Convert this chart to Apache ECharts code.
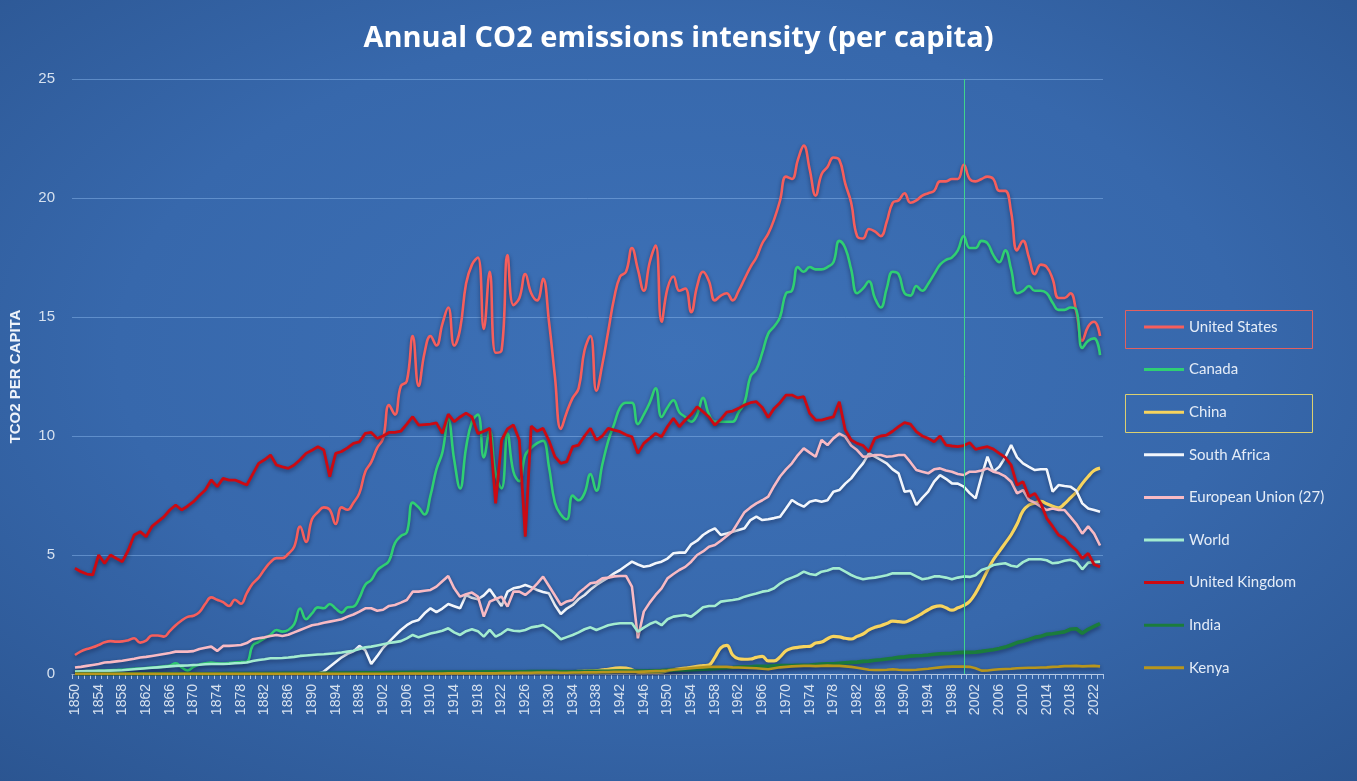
<!DOCTYPE html>
<html>
<head>
<meta charset="utf-8">
<script src="https://cdn.jsdelivr.net/npm/echarts@6/dist/echarts.min.js"></script>
<style>
html,body{margin:0;padding:0;width:1357px;height:781px;overflow:hidden;}
body{background:radial-gradient(ellipse 75% 75% at 50% 45%, #3d71b7 0%, #3768ac 55%, #2b5591 100%);}
#chart{width:1357px;height:781px;}
</style>
</head>
<body>
<div id="chart"></div>
<script>
// Years 1850..2023 (category labels)
const years = [];
for (let y = 1850; y <= 2023; y++) years.push(String(y));

const unitedStates = [
0.80,0.95,1.05,1.12,1.22,1.33,1.38,1.36,1.37,1.42,
1.50,1.32,1.40,1.62,1.62,1.57,1.80,2.05,2.25,2.40,
2.45,2.60,2.95,3.22,3.12,3.02,2.86,3.12,2.95,3.40,
3.80,4.05,4.40,4.70,4.87,4.87,5.05,5.35,6.20,5.55,
6.50,6.80,7.00,6.90,6.30,7.00,6.90,7.20,7.60,8.50,
8.90,9.50,9.90,11.30,10.90,12.10,12.30,14.20,12.10,13.50,
14.20,13.80,14.70,15.40,13.80,14.50,16.40,17.20,17.50,14.50,
16.90,13.50,13.60,17.60,15.50,15.80,16.80,16.00,15.70,16.60,
14.80,12.50,10.30,11.00,11.60,12.00,13.60,14.20,11.90,13.00,
14.40,15.80,16.70,16.90,17.90,17.00,16.10,17.30,18.00,14.80,
16.20,16.70,16.10,16.20,15.20,16.30,16.90,16.50,15.70,15.90,
16.00,15.70,16.10,16.60,17.10,17.50,18.10,18.50,19.10,19.90,
20.90,20.80,21.60,22.20,21.20,20.10,21.00,21.30,21.70,21.60,
20.60,19.80,18.40,18.30,18.70,18.60,18.40,19.00,19.80,19.90,
20.20,19.80,19.90,20.10,20.20,20.30,20.70,20.70,20.80,20.80,
21.40,20.80,20.70,20.80,20.90,20.80,20.30,20.30,19.40,17.80,
18.20,17.50,16.80,17.20,17.10,16.60,15.80,15.80,16.00,15.20,
14.00,14.60,14.80,14.20];

const canada = [
0.10,0.11,0.12,0.13,0.14,0.15,0.16,0.17,0.18,0.20,
0.22,0.23,0.25,0.27,0.29,0.32,0.36,0.45,0.28,0.15,
0.30,0.40,0.45,0.48,0.45,0.44,0.46,0.48,0.50,0.52,
1.20,1.35,1.50,1.65,1.85,1.78,1.85,2.10,2.75,2.30,
2.55,2.80,2.76,2.94,2.75,2.58,2.80,2.83,3.20,3.75,
3.95,4.35,4.55,4.75,5.50,5.80,5.95,7.20,7.00,6.70,
7.50,8.60,9.30,10.70,9.00,7.80,9.50,10.60,10.90,9.10,
10.20,8.40,7.80,10.10,8.50,8.10,9.20,9.50,9.70,9.80,
8.70,7.20,6.70,6.50,7.50,7.30,7.60,8.40,7.70,8.80,
9.80,10.50,11.20,11.40,11.40,10.50,10.90,11.40,12.00,10.80,
11.20,11.50,11.00,10.80,10.60,10.90,11.60,10.90,10.60,10.60,
10.60,10.60,11.00,11.40,12.50,12.80,13.50,14.30,14.60,15.00,
16.00,16.10,17.10,16.90,17.10,17.00,17.00,17.10,17.30,18.20,
17.90,17.00,16.00,16.20,16.50,15.80,15.40,16.20,16.90,16.80,
16.00,15.90,16.30,16.10,16.40,16.80,17.20,17.40,17.50,17.80,
18.40,17.90,17.90,18.20,18.10,17.60,17.30,17.80,17.00,16.00,
16.10,16.30,16.10,16.10,16.00,15.60,15.30,15.30,15.40,15.30,
13.70,14.00,14.10,13.40];

const china = [
0.01,0.01,0.01,0.01,0.01,0.01,0.01,0.01,0.01,0.01,
0.01,0.01,0.01,0.01,0.01,0.01,0.01,0.01,0.01,0.01,
0.01,0.01,0.01,0.01,0.01,0.01,0.01,0.01,0.01,0.01,
0.01,0.01,0.01,0.01,0.01,0.01,0.01,0.01,0.01,0.01,
0.01,0.01,0.01,0.01,0.01,0.02,0.02,0.02,0.02,0.02,
0.02,0.02,0.02,0.02,0.02,0.03,0.03,0.03,0.03,0.03,
0.03,0.03,0.03,0.04,0.04,0.04,0.04,0.04,0.04,0.04,
0.04,0.04,0.05,0.05,0.05,0.05,0.05,0.05,0.06,0.06,
0.06,0.07,0.08,0.09,0.10,0.11,0.12,0.13,0.14,0.17,
0.20,0.24,0.26,0.25,0.18,0.08,0.06,0.07,0.07,0.08,
0.14,0.18,0.22,0.25,0.28,0.32,0.35,0.38,0.70,1.10,
1.20,0.80,0.64,0.62,0.63,0.70,0.74,0.55,0.55,0.72,
0.98,1.08,1.12,1.15,1.16,1.30,1.34,1.48,1.58,1.56,
1.50,1.47,1.58,1.68,1.85,1.96,2.03,2.12,2.22,2.20,
2.18,2.28,2.40,2.55,2.70,2.82,2.86,2.78,2.68,2.78,
2.88,3.05,3.40,3.85,4.35,4.80,5.15,5.50,5.85,6.30,
6.85,7.10,7.18,7.25,7.15,7.05,6.98,7.15,7.40,7.65,
8.00,8.30,8.55,8.65];

const southAfrica = [
null,null,null,null,null,null,null,null,null,null,
null,null,null,null,null,null,null,null,null,null,
null,null,null,null,null,null,null,null,null,null,
null,null,null,null,null,null,null,null,null,null,
null,0.02,0.10,0.30,0.50,0.70,0.85,0.95,1.18,1.00,
0.42,0.75,1.10,1.35,1.60,1.85,2.05,2.20,2.27,2.55,
2.76,2.60,2.75,2.94,2.85,2.76,3.32,3.20,3.14,3.30,
3.56,3.20,2.86,3.46,3.60,3.65,3.74,3.65,3.53,3.45,
3.39,2.90,2.52,2.75,2.90,3.15,3.32,3.55,3.74,3.90,
4.05,4.23,4.37,4.55,4.72,4.60,4.51,4.55,4.65,4.72,
4.85,5.07,5.10,5.10,5.45,5.60,5.84,6.00,6.12,5.84,
5.90,5.98,6.05,6.12,6.47,6.61,6.47,6.50,6.55,6.61,
6.95,7.31,7.15,7.03,7.24,7.30,7.24,7.30,7.66,7.73,
8.00,8.22,8.55,8.85,9.27,9.13,9.00,8.85,8.60,8.43,
7.66,7.70,7.10,7.40,7.66,8.08,8.36,8.20,8.01,8.00,
7.87,7.60,7.38,8.30,9.13,8.50,8.71,9.10,9.62,9.10,
8.85,8.70,8.57,8.60,8.60,7.66,7.94,7.90,7.87,7.70,
7.17,6.95,6.89,6.82];

const europeanUnion = [
0.27,0.30,0.34,0.38,0.42,0.48,0.50,0.53,0.56,0.60,
0.64,0.69,0.72,0.76,0.80,0.84,0.88,0.94,0.94,0.94,
0.96,1.05,1.10,1.15,0.97,1.18,1.18,1.20,1.22,1.30,
1.46,1.50,1.54,1.60,1.64,1.60,1.65,1.75,1.85,1.95,
2.05,2.09,2.15,2.20,2.25,2.30,2.41,2.50,2.62,2.76,
2.76,2.66,2.70,2.86,2.90,3.00,3.11,3.46,3.46,3.50,
3.53,3.67,3.90,4.12,3.60,3.25,3.35,3.42,3.25,2.41,
3.04,3.15,3.25,2.83,3.46,3.46,3.32,3.53,3.80,4.09,
3.70,3.30,2.90,3.05,3.11,3.40,3.60,3.81,3.85,4.02,
4.05,4.10,4.12,4.12,3.67,1.50,2.62,3.00,3.32,3.60,
4.02,4.20,4.37,4.50,4.72,5.00,5.15,5.35,5.42,5.60,
5.80,6.00,6.40,6.80,7.00,7.17,7.30,7.45,7.90,8.30,
8.60,8.85,9.20,9.48,9.30,9.13,9.83,9.62,9.90,10.10,
9.97,9.60,9.41,9.13,9.15,9.20,9.20,9.13,9.15,9.20,
9.20,8.90,8.57,8.50,8.43,8.60,8.64,8.55,8.50,8.40,
8.36,8.50,8.50,8.55,8.64,8.50,8.43,8.30,8.08,7.59,
7.73,7.31,7.20,7.03,6.89,6.95,6.89,6.89,6.60,6.30,
5.90,6.20,5.90,5.40];

const world = [
0.10,0.11,0.12,0.12,0.13,0.13,0.14,0.15,0.16,0.18,
0.20,0.22,0.24,0.26,0.28,0.30,0.32,0.34,0.35,0.36,
0.38,0.39,0.41,0.42,0.42,0.42,0.43,0.45,0.46,0.48,
0.55,0.59,0.62,0.66,0.66,0.67,0.69,0.72,0.76,0.78,
0.80,0.82,0.83,0.85,0.87,0.90,0.94,0.98,1.05,1.12,
1.15,1.20,1.25,1.30,1.34,1.38,1.50,1.64,1.54,1.62,
1.70,1.75,1.82,1.92,1.75,1.64,1.80,1.88,1.80,1.57,
1.85,1.57,1.70,1.88,1.82,1.80,1.85,1.96,2.00,2.06,
1.90,1.70,1.46,1.55,1.64,1.75,1.88,1.96,1.85,1.95,
2.05,2.10,2.13,2.13,2.13,1.78,1.95,2.10,2.20,2.05,
2.30,2.41,2.45,2.48,2.41,2.60,2.80,2.86,2.86,3.04,
3.08,3.11,3.15,3.25,3.32,3.38,3.46,3.50,3.60,3.80,
3.95,4.05,4.15,4.30,4.20,4.16,4.30,4.35,4.44,4.44,
4.30,4.16,4.05,3.98,4.02,4.05,4.10,4.15,4.23,4.23,
4.23,4.23,4.10,3.98,4.02,4.10,4.10,4.05,3.98,4.05,
4.10,4.08,4.15,4.37,4.45,4.58,4.62,4.65,4.55,4.51,
4.70,4.82,4.82,4.82,4.78,4.65,4.68,4.76,4.80,4.72,
4.40,4.68,4.70,4.72];

const unitedKingdom = [
4.44,4.30,4.20,4.16,5.00,4.65,5.00,4.85,4.72,5.20,
5.84,5.98,5.77,6.20,6.40,6.60,6.89,7.10,6.89,7.05,
7.24,7.50,7.73,8.15,7.87,8.22,8.15,8.15,8.05,7.94,
8.40,8.85,9.00,9.20,8.78,8.70,8.64,8.78,9.00,9.27,
9.40,9.55,9.41,8.29,9.27,9.35,9.50,9.69,9.75,10.11,
10.15,9.90,10.00,10.15,10.15,10.20,10.50,10.81,10.46,10.48,
10.50,10.55,10.11,10.92,10.60,10.80,10.96,10.80,10.10,10.20,
10.32,7.17,9.83,10.30,10.46,9.83,5.77,10.42,10.20,10.32,
9.80,9.13,8.85,8.92,9.55,9.62,10.00,10.32,9.83,10.00,
10.32,10.25,10.18,10.05,9.97,9.27,9.69,9.90,10.11,9.97,
10.40,10.74,10.39,10.67,10.90,11.23,11.02,10.80,10.46,10.70,
11.00,11.05,11.16,11.30,11.40,11.44,11.20,10.78,11.16,11.40,
11.72,11.72,11.60,11.65,10.95,10.67,10.67,10.74,10.80,11.44,
10.25,9.83,9.69,9.60,9.34,9.90,10.00,10.04,10.20,10.39,
10.56,10.50,10.18,10.00,9.90,9.76,10.00,9.62,9.58,9.55,
9.60,9.72,9.44,9.50,9.55,9.45,9.27,9.10,8.78,7.94,
8.08,7.45,7.59,7.17,6.54,6.20,5.84,5.70,5.42,5.20,
4.86,5.07,4.60,4.50];

const india = [
0.01,0.01,0.01,0.01,0.01,0.01,0.01,0.01,0.01,0.01,
0.01,0.01,0.01,0.01,0.01,0.01,0.01,0.01,0.01,0.01,
0.01,0.01,0.01,0.01,0.01,0.02,0.02,0.02,0.02,0.02,
0.02,0.02,0.02,0.02,0.02,0.03,0.03,0.03,0.03,0.03,
0.03,0.03,0.03,0.04,0.04,0.04,0.04,0.04,0.05,0.05,
0.05,0.05,0.05,0.06,0.06,0.06,0.06,0.07,0.07,0.07,
0.07,0.07,0.08,0.08,0.08,0.08,0.08,0.08,0.08,0.09,
0.09,0.09,0.09,0.09,0.09,0.09,0.09,0.10,0.10,0.10,
0.10,0.10,0.09,0.09,0.09,0.10,0.10,0.11,0.11,0.11,
0.11,0.12,0.12,0.12,0.12,0.12,0.12,0.12,0.13,0.14,
0.16,0.17,0.17,0.17,0.18,0.19,0.20,0.21,0.22,0.24,
0.26,0.27,0.29,0.30,0.30,0.32,0.32,0.32,0.34,0.35,
0.35,0.36,0.37,0.37,0.38,0.40,0.42,0.43,0.43,0.45,
0.47,0.49,0.50,0.53,0.54,0.58,0.60,0.63,0.66,0.70,
0.72,0.75,0.77,0.78,0.80,0.83,0.85,0.86,0.87,0.90,
0.91,0.91,0.92,0.95,0.99,1.02,1.07,1.13,1.22,1.32,
1.38,1.45,1.54,1.58,1.67,1.69,1.73,1.77,1.88,1.90,
1.71,1.88,2.00,2.12];

const kenya = [
0.01,0.01,0.01,0.01,0.01,0.01,0.01,0.01,0.01,0.01,
0.01,0.01,0.01,0.01,0.01,0.01,0.01,0.01,0.01,0.01,
0.01,0.01,0.01,0.01,0.01,0.01,0.01,0.01,0.01,0.01,
0.01,0.01,0.01,0.01,0.01,0.01,0.01,0.01,0.01,0.01,
0.01,0.01,0.01,0.01,0.01,0.01,0.01,0.01,0.01,0.01,
0.01,0.01,0.01,0.01,0.01,0.02,0.02,0.02,0.02,0.02,
0.02,0.02,0.02,0.03,0.03,0.03,0.03,0.03,0.03,0.03,
0.03,0.03,0.04,0.04,0.04,0.05,0.05,0.05,0.06,0.06,
0.06,0.06,0.05,0.05,0.06,0.06,0.07,0.07,0.07,0.08,
0.08,0.09,0.09,0.09,0.09,0.09,0.10,0.11,0.12,0.13,
0.15,0.18,0.20,0.22,0.24,0.26,0.28,0.30,0.30,0.30,
0.30,0.28,0.27,0.26,0.25,0.24,0.22,0.20,0.24,0.28,
0.30,0.32,0.33,0.34,0.34,0.33,0.34,0.35,0.34,0.34,
0.32,0.30,0.26,0.22,0.18,0.17,0.17,0.18,0.20,0.18,
0.17,0.17,0.18,0.20,0.22,0.25,0.28,0.30,0.31,0.31,
0.31,0.30,0.24,0.14,0.15,0.18,0.20,0.21,0.22,0.24,
0.25,0.26,0.26,0.27,0.28,0.30,0.31,0.33,0.33,0.34,
0.32,0.33,0.34,0.32];

const seriesNames = ['United States','Canada','China','South Africa','European Union (27)','World','United Kingdom','India','Kenya'];
const seriesData = [unitedStates, canada, china, southAfrica, europeanUnion, world, unitedKingdom, india, kenya];
const colors = ['#f65e5c','#2fcf73','#f7d45e','#f2f6fc','#f8bac4','#a3ecd0','#cc0a12','#1b7c3c','#b8961c'];
const widths = [2.6,2.6,3.2,2.6,2.6,2.6,2.8,3.6,2.6];
const smooths = [0.45,0.45,0.45,false,false,false,false,false,false];
const yTicks = [0,5,10,15,20,25];
const markYear = '2000';

const chart = echarts.init(document.getElementById('chart'), null, {renderer:'canvas'});

const series = seriesNames.map((name, i) => {
  const s = {
    name: name,
    type: 'line',
    data: seriesData[i],
    showSymbol: false,
    symbol: 'none',
    smooth: smooths[i],
    connectNulls: false,
    lineStyle: {
      color: colors[i], width: widths[i],
      shadowColor: 'rgba(0,0,30,0.45)', shadowBlur: 4, shadowOffsetY: 2
    },
    itemStyle: {color: colors[i]},
    emphasis: {disabled: true},
    animation: false
  };
  if (i === 0) {
    s.markLine = {
      silent: true, symbol: 'none',
      label: {show: false},
      lineStyle: {color: '#3fd48c', width: 1, type: 'solid', shadowBlur: 0},
      data: [{xAxis: markYear}]
    };
  }
  return s;
});

chart.setOption({
  backgroundColor: 'transparent',
  animation: false,
  color: colors,
  title: {
    text: 'Annual CO2 emissions intensity (per capita)',
    left: 'center', top: 19,
    textStyle: {color: '#ffffff', fontSize: 29, fontWeight: 'bold', fontFamily: 'Open Sans'}
  },
  grid: {left: 70, top: 79, width: 1033, height: 595, containLabel: false},
  legend: {
    orient: 'vertical',
    left: 1139, top: 313,
    icon: 'rect', itemWidth: 40, itemHeight: 3,
    itemGap: 24.6,
    data: seriesNames,
    selectedMode: false,
    textStyle: {color: '#e4ecf7', fontSize: 15, fontFamily: 'Lato', lineHeight: 18}
  },
  xAxis: {
    type: 'category',
    data: years,
    boundaryGap: true,
    axisLine: {lineStyle: {color: '#b9cbe3', width: 1}},
    axisTick: {show: true, interval: 0, length: 5, lineStyle: {color: '#a9c3e6'}},
    axisLabel: {rotate: 90, interval: 3, color: '#d6e1ef', fontSize: 14, fontFamily: 'Liberation Sans', margin: 10},
    splitLine: {show: false}
  },
  yAxis: {
    type: 'value',
    min: yTicks[0], max: yTicks[yTicks.length-1], interval: 5,
    name: 'TCO2 PER CAPITA',
    nameLocation: 'middle', nameGap: 49, nameRotate: 90,
    nameTextStyle: {color: '#eef3fa', fontSize: 15, fontWeight: 'bold', fontFamily: 'Liberation Sans'},
    axisLine: {show: false},
    axisTick: {show: false},
    axisLabel: {color: '#d6e1ef', fontSize: 15, fontFamily: 'Liberation Sans', margin: 17},
    splitLine: {lineStyle: {color: 'rgba(130,175,230,0.55)', width: 1}}
  },
  graphic: [
    {type: 'rect', left: 1123, top: 308, z: 100, shape: {width: 187, height: 38}, style: {fill: 'none', stroke: '#e2605f', lineWidth: 1}},
    {type: 'rect', left: 1123, top: 392, z: 100, shape: {width: 187, height: 38}, style: {fill: 'none', stroke: '#dcd070', lineWidth: 1}}
  ],
  series: series
});
</script>
</body>
</html>
